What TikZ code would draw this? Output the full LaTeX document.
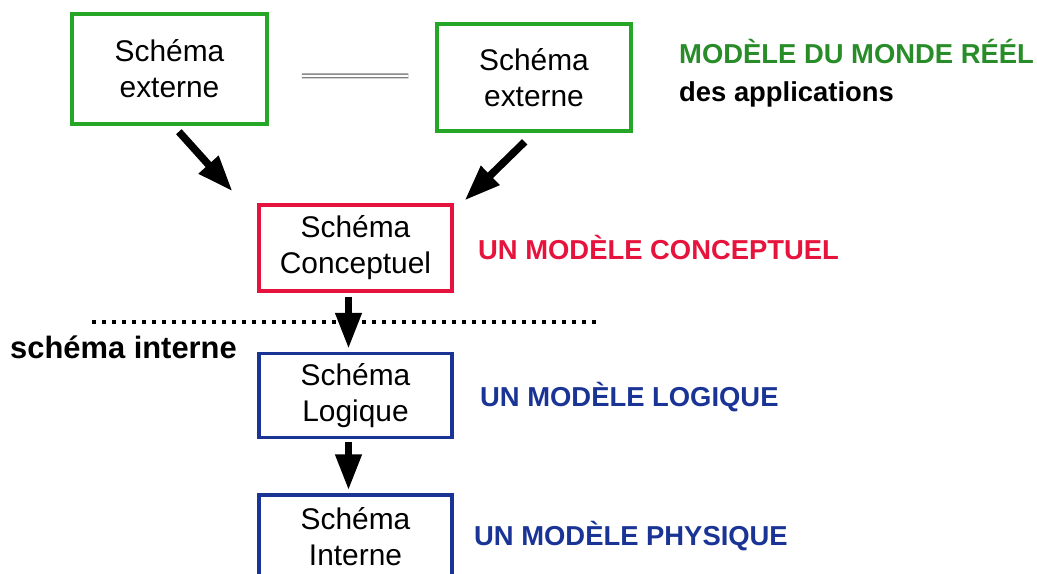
\documentclass[tikz,border=0pt]{standalone}
\usepackage{fontspec}
\setmainfont{Liberation Sans}
\usepackage{xcolor}
\usetikzlibrary{arrows.meta,positioning}
\definecolor{extgreen}{RGB}{38,166,38}
\definecolor{txtgreen}{RGB}{40,140,40}
\definecolor{concred}{RGB}{230,20,60}
\definecolor{logblue}{RGB}{26,52,150}

\begin{document}
\begin{tikzpicture}[x=1bp,y=-1bp,
  node distance=59bp and 26bp,
  schema/.style={draw,line width=3.5bp,minimum width=193bp,minimum height=84bp,
    align=center,inner sep=0pt,font=\fontsize{30}{36}\selectfont},
  ext/.style={schema,draw=extgreen,minimum width=195bp},
  conc/.style={schema,draw=concred},
  logi/.style={schema,draw=logblue},
  level/.style={font=\bfseries\fontsize{27.5}{33}\selectfont,inner sep=0pt,
    anchor=base west},
  push/.style={-{Triangle[width=25bp,length=36bp]},line width=7.5bp},
  link/.style={draw=gray,double=white,line width=1.5bp,double distance=2bp},
  sep/.style={line width=3.5bp,dash pattern=on 3.5bp off 6.5bp}]
\useasboundingbox (0,0) rectangle (1037,574);
\node[ext,minimum height=110bp] (ext1) at (169.5,69) {Schéma\\externe};
\node[ext,minimum width=194bp,minimum height=107bp] (ext2) at (534,77.5) {Schéma\\externe};
\node[conc,minimum height=86bp] (concept) at (355.5,248) {Schéma\\Conceptuel};
\node[logi,below=of concept] (logique) {Schéma\\Logique};
\node[logi,below=54bp of logique] (interne) {Schéma\\Interne};
\node[level,text=txtgreen] (world) at (679,64) {MODÈLE DU MONDE RÉÉL};
\node[level] (apps) at (679,102) {des applications};
\node[level,text=concred] (lconc) at (478,260) {UN MODÈLE CONCEPTUEL};
\node[level,text=logblue] (llogi) at (480,406) {UN MODÈLE LOGIQUE};
\node[level,text=logblue] (lphys) at (474,545) {UN MODÈLE PHYSIQUE};
\node[level,font=\bfseries\fontsize{31}{36}\selectfont] (lint) at (10,358) {schéma interne};
\coordinate (sepL) at (92,322);
\coordinate (sepR) at (602,322);
\draw[sep] (sepL) -- (sepR);
\draw[link,shorten <=33bp,shorten >=27bp] ([yshift=-7bp]ext1.east) -- ([yshift=1.5bp]ext2.west);
\draw[push,shorten <=8bp,shorten >=16bp] ([xshift=4bp]ext1.south) -- ([xshift=-14bp]concept.north west);
\draw[push,shorten <=13bp,shorten >=4bp] (ext2.south) -- ([xshift=8bp]concept.north east);
\draw[push,shorten <=4bp,shorten >=3bp] ([xshift=-7bp]concept.south) -- ([xshift=-7bp]logique.north);
\draw[push,shorten <=3bp,shorten >=3bp] ([xshift=-7bp]logique.south) -- ([xshift=-7bp]interne.north);
\end{tikzpicture}
\end{document}
